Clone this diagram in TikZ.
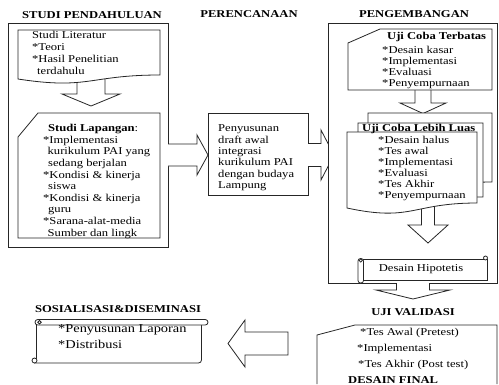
\documentclass[tikz,border=0pt]{standalone}
\usepackage{fontspec}
\setmainfont{Liberation Serif}[FakeStretch=1.2]
\begin{document}
\begin{tikzpicture}[x=1pt,y=-1pt,
  shp/.style={draw=black!85, line width=0.8pt, fill=white},
  txt/.style={anchor=north west, inner sep=0pt, align=left, font=\fontsize{10.5}{11.6}\selectfont},
  ln/.style={anchor=base west, inner sep=0pt, font=\fontsize{10.5}{12}\selectfont},
  ttl/.style={inner sep=0pt, font=\bfseries\fontsize{10.5}{12}\selectfont}]
\useasboundingbox[fill=white] (0,0) rectangle (499,384);

% ---- Studi pendahuluan ----
\draw[shp] (8,23) rectangle (168,247);
\draw[shp] (77,70) -- (77,94) -- (62,94) -- (91,106) -- (120,94) -- (105,94) -- (105,70) -- cycle;
\draw[shp] (18,30) -- (160,30) -- (160,75) .. controls (89,75) and (89,90) .. (18,79) -- cycle;
\draw[shp] (38,113) -- (160,113) -- (160,238) -- (18,238) -- (18,137) -- cycle;

% ---- Perencanaan ----
\draw[shp] (168,144) -- (197,144) -- (197,135) -- (208,155) -- (197,175) -- (197,166) -- (168,166);
\draw[shp] (208,113) rectangle (308,195);
\draw[shp] (308,143.5) -- (321,143.5) -- (321,130) -- (334,155) -- (321,180) -- (321,166.5) -- (308,166.5);

% ---- Pengembangan ----
\draw[shp] (328,23) rectangle (497,283);
\draw[shp] (415,85) -- (415,103) -- (400,103) -- (423,113.5) -- (446,103) -- (431,103) -- (431,85) -- cycle;
\draw[shp] (380,29) -- (492,29) -- (492,90) -- (348,90) -- (348,43) -- cycle;
\draw[shp] (421.5,205) -- (421.5,225) -- (408,225) -- (428,243) -- (448,225) -- (434.5,225) -- (434.5,205) -- cycle;
\draw[shp] (368,113) -- (492,113) -- (492,182) .. controls (430,182) and (430,200) .. (368,190) -- cycle;
\draw[shp] (358,123) -- (483,123) -- (483,197) .. controls (420,197) and (420,215) .. (358,203) -- cycle;
\draw[shp] (347,132) -- (477,132) -- (477,203) .. controls (412,203) and (412,222) .. (347,208) -- cycle;

% scroll: desain hipotetis
\draw[shp] (362,259) -- (487.5,259) -- (487.5,280.5) -- (362,280.5) -- cycle;
\draw[shp] (485.5,258) circle (2);
\draw[shp, rounded corners=2.5pt] (358,258.5) rectangle (363.5,283);
\draw[shp] (360.75,260.5) circle (1.6);

% ---- Uji validasi ----
\draw[shp] (396.5,283) -- (396.5,290) -- (376,290) -- (413,299) -- (450,290) -- (429.5,290) -- (429.5,283);
\draw[shp] (317,384) -- (317,335) -- (355,325) -- (497,325) -- (497,384);
\draw[shp] (288,332) -- (245,332) -- (245,320) -- (228,343.5) -- (245,367) -- (245,355) -- (288,355) -- cycle;

% ---- Sosialisasi scroll ----
\draw[shp, fill=none, rounded corners=3pt] (201.5,324) -- (201.5,363) -- (34,363);
\draw[shp] (36.5,324) -- (36.5,359);
\draw[shp, rounded corners=2.75pt] (35,319.5) rectangle (208,325);
\draw[shp] (39.5,322.25) circle (1.8);
\draw[shp] (34.5,360.5) circle (2.5);

% ---- titles ----
\node[ttl] (tStudi) at (92,15) {STUDI PENDAHULUAN};
\node[ttl] (tRencana) at (249,14) {PERENCANAAN};
\node[ttl] (tKembang) at (414,14) {PENGEMBANGAN};
\node[ttl] (tValid) at (413,312) {UJI VALIDASI};
\node[ttl] (tSosial) at (118,309) {SOSIALISASI\&DISEMINASI};

% ---- texts ----
\node[txt, font=\fontsize{10.5}{12}\selectfont] (literatur) at (32,30.1)
  {\strut Studi Literatur\\{}*Teori\\{}*Hasil Penelitian\\\hspace*{5pt}terdahulu};
\node[txt] (lapangan) at (43,123.4)
  {\strut\hspace*{5pt}\textbf{Studi Lapangan}:\\{}*Implementasi\\\hspace*{4.5pt}kurikulum PAI yang\\\hspace*{5pt}sedang berjalan\\{}*Kondisi \& kinerja\\\hspace*{5pt}siswa\\{}*Kondisi \& kinerja\\\hspace*{5pt}guru\\{}*Sarana-alat-media\\\hspace*{4.5pt}Sumber dan lingk};
\node[txt, font=\fontsize{10.5}{11.4}\selectfont] (draft) at (218,123.5)
  {\strut Penyusunan\\draft awal\\integrasi\\kurikulum PAI\\dengan budaya\\Lampung};
\node[ln] (terbatasH) at (387,39.5) {\bfseries Uji Coba Terbatas};
\node[txt, font=\fontsize{10.5}{10.8}\selectfont] (terbatas) at (382,45.9)
  {\strut{}*Desain kasar\\{}*Implementasi\\{}*Evaluasi\\{}*Penyempurnaan};
\node[ln] (luasH) at (362,131) {\bfseries Uji Coba Lebih Luas};
\node[txt, font=\fontsize{10.5}{11}\selectfont] (luas) at (378,135.8)
  {\strut{}*Desain halus\\{}*Tes awal\\{}*Implementasi\\{}*Evaluasi\\{}*Tes Akhir\\{}*Penyempurnaan};
\node[inner sep=0pt, font=\fontsize{10.5}{12}\selectfont] (hipotetis) at (421,269) {Desain Hipotetis};
\node[ln] (v1) at (360,335.5) {*Tes Awal (Pretest)};
\node[ln] (v2) at (357,351.5) {*Implementasi};
\node[ln] (v3) at (358,367.5) {*Tes Akhir (Post test)};
\node[ln] (v4) at (348,383) {\bfseries DESAIN FINAL};
\node[ln, font=\fontsize{12}{14}\selectfont] (s1) at (58,332.5) {*Penyusunan Laporan};
\node[ln, font=\fontsize{12}{14}\selectfont] (s2) at (58,348.5) {*Distribusi};
\end{tikzpicture}
\end{document}
